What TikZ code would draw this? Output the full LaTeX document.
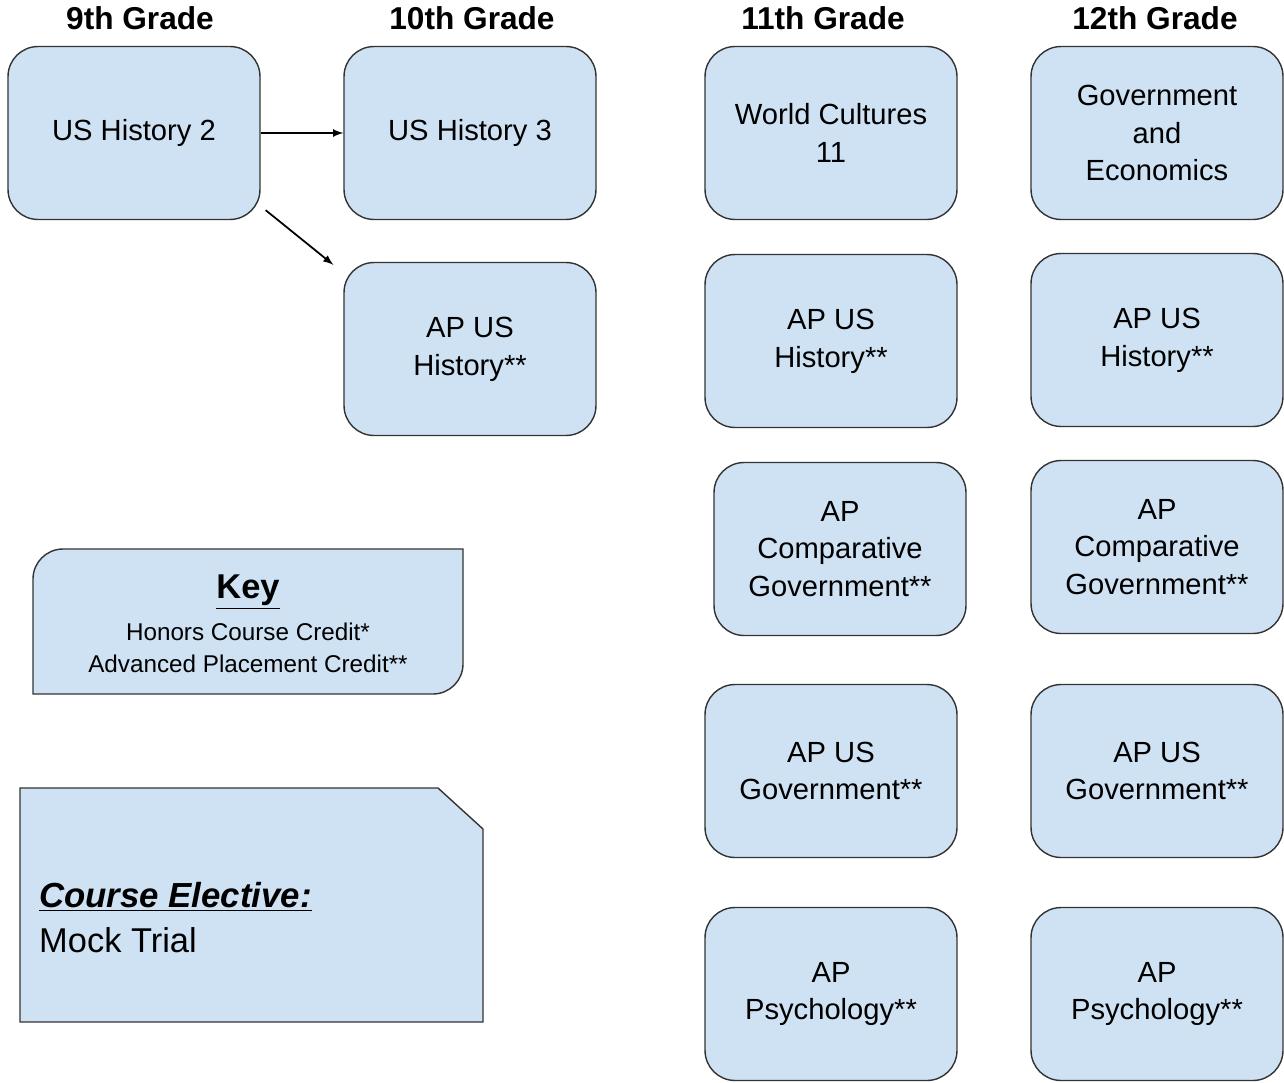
\documentclass[tikz,border=0pt]{standalone}
\usepackage{fontspec}
\setmainfont{Liberation Sans}
\definecolor{boxblue}{HTML}{CFE2F3}
\definecolor{edge}{HTML}{333333}
\begin{document}
\begin{tikzpicture}[>=latex, x=0.02cm, y=-0.02cm,
    course/.style={draw=edge, fill=boxblue, line width=0.8pt, rounded corners=0.6cm,
        minimum width=5.04cm, minimum height=3.46cm, align=center,
        font=\fontsize{16.6}{21.5}\selectfont},
    grade/.style={font=\fontsize{18}{20}\bfseries}]
    \useasboundingbox (0,0) rectangle (1284,1082);
    % grade headings
    \node[grade] (g9) at (140,18) {9th Grade};
    \node[grade] (g10) at (472,18) {10th Grade};
    \node[grade] (g11) at (823,18) {11th Grade};
    \node[grade] (g12) at (1155,18) {12th Grade};
    % 9th and 10th grade
    \node[course] (ush2) at (134,133) {US History 2};
    \node[course] (ush3) at (470,133) {US History 3};
    \node[course] (apush10) at (470,349) {AP US\\History**};
    \draw[->, line width=1pt] (ush2) -- (ush3);
    \draw[->, line width=1pt] ([shift={(5,-10)}]ush2.south east) -- ([shift={(-10,3)}]apush10.north west);
    % 11th grade
    \node[course] (wc11) at (831,133) {World Cultures\\11};
    \node[course] (apush11) at (831,341) {AP US\\History**};
    \node[course] (apcomp11) at (840,549) {AP\\Comparative\\Government**};
    \node[course] (apgov11) at (831,771) {AP US\\Government**};
    \node[course] (appsy11) at (831,994) {AP\\Psychology**};
    % 12th grade
    \node[course] (gov12) at (1157,133) {Government\\and\\Economics};
    \node[course] (apush12) at (1157,340) {AP US\\History**};
    \node[course] (apcomp12) at (1157,547) {AP\\Comparative\\Government**};
    \node[course] (apgov12) at (1157,771) {AP US\\Government**};
    \node[course] (appsy12) at (1157,994) {AP\\Psychology**};
    % key
    \draw[draw=edge, fill=boxblue, line width=0.8pt] (33,694) -- (33,579)
        arc[start angle=180, end angle=90, radius=0.6cm] -- (463,549) -- (463,664)
        arc[start angle=0, end angle=-90, radius=0.6cm] -- cycle;
    \node[font=\fontsize{19.6}{22}\bfseries] (keyhead) at (248,592) {\underline{Key}};
    \node[align=center, font=\fontsize{13.8}{18}\selectfont] (keytext) at (248,648)
        {Honors Course Credit*\\Advanced Placement Credit**};
    % elective
    \draw[draw=edge, fill=boxblue, line width=0.8pt] (20,788) -- (438,788) -- (483,829)
        -- (483,1022) -- (20,1022) -- cycle;
    \node[anchor=west, font=\fontsize{19.8}{22}\bfseries\itshape] (elechead) at (33,897)
        {\underline{Course Elective:}};
    \node[anchor=west, font=\fontsize{19.6}{22}\selectfont] (electext) at (33,940) {Mock Trial};
\end{tikzpicture}
\end{document}
